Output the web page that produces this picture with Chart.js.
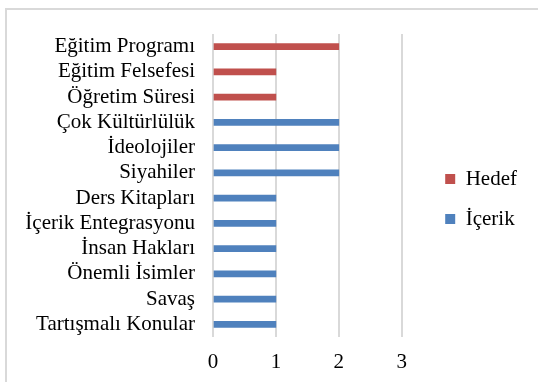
<!DOCTYPE html>
<html>
<head>
<meta charset="utf-8">
<script src="https://cdn.jsdelivr.net/npm/chart.js@4.4.1/dist/chart.umd.min.js"></script>
<style>
  html, body { margin: 0; padding: 0; background: #fff; }
  #frame { position: absolute; left: 5px; top: 8px; width: 560px; height: 400px; border: 2px solid #d9d9d9; }
  #chart { position: absolute; left: 0; top: 0; }
</style>
</head>
<body>
<div id="frame"></div>
<canvas id="chart" width="538" height="382"></canvas>
<script>
// categories, top to bottom
var categories = ['Eğitim Programı', 'Eğitim Felsefesi', 'Öğretim Süresi', 'Çok Kültürlülük',
    'İdeolojiler', 'Siyahiler', 'Ders Kitapları', 'İçerik Entegrasyonu', 'İnsan Hakları',
    'Önemli İsimler', 'Savaş', 'Tartışmalı Konular'];
var hedefValues = [2, 1, 1, null, null, null, null, null, null, null, null, null];
var icerikValues = [null, null, null, 2, 2, 2, 1, 1, 1, 1, 1, 1];
var xTicks = [0, 1, 2, 3];

Chart.defaults.font.family = "'Liberation Serif', 'Times New Roman', serif";
Chart.defaults.font.size = 21;
Chart.defaults.color = '#000';

// the legend sits a little above the middle of the plot
var legendNudge = {
    id: 'legendNudge',
    afterLayout: function (chart) {
        chart.legend.top -= 5;
        chart.legend.bottom -= 5;
    }
};

new Chart(document.getElementById('chart'), {
    type: 'bar',
    data: {
        labels: categories,
        datasets: [
            { label: 'Hedef', data: hedefValues, backgroundColor: '#C0504D', borderWidth: 0, barThickness: 6 },
            { label: 'İçerik', data: icerikValues, backgroundColor: '#4F81BD', borderWidth: 0, barThickness: 6 }
        ]
    },
    options: {
        indexAxis: 'y',
        responsive: false,
        animation: false,
        layout: { padding: { left: 0, top: 34, right: 11, bottom: 8 } },
        plugins: {
            legend: {
                position: 'right',
                labels: { boxWidth: 10, boxHeight: 10, padding: 19 }
            },
            tooltip: { enabled: false }
        },
        scales: {
            x: {
                stacked: true,
                min: 0,
                max: 3.39,
                afterBuildTicks: function (scale) {
                    scale.ticks = xTicks.map(function (v) { return { value: v }; });
                },
                ticks: { padding: 13 },
                grid: { color: '#d9d9d9', lineWidth: 2, drawTicks: false },
                border: { display: false },
                afterFit: function (scale) { scale.height = 37; }
            },
            y: {
                stacked: true,
                grid: { display: false, drawTicks: false },
                border: { display: false },
                ticks: { padding: 18, autoSkip: false },
                afterFit: function (scale) { scale.width = 213; }
            }
        }
    },
    plugins: [legendNudge]
});
</script>
</body>
</html>
